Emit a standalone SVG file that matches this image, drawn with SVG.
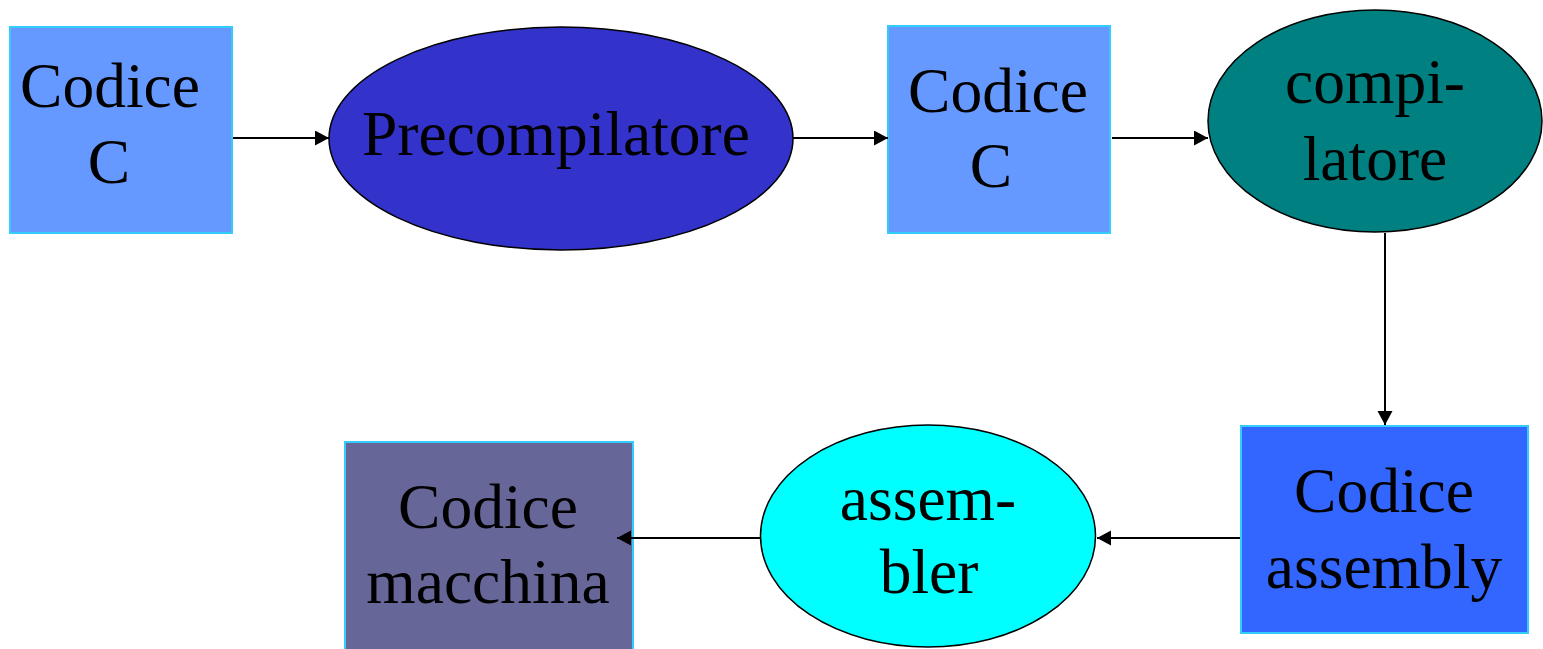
<svg xmlns="http://www.w3.org/2000/svg" width="1543" height="649" viewBox="0 0 1543 649">
<style>
.box{stroke:#33CCFF;stroke-width:2}
.ell{stroke:#000;stroke-width:1.5}
text{font-family:"Liberation Serif","Times New Roman",serif;font-size:63.5px;fill:#000;text-anchor:middle}
.conn{stroke:#000;stroke-width:2;fill:none;marker-end:url(#arr)}
</style>
<defs>
<marker id="arr" markerUnits="userSpaceOnUse" markerWidth="16" markerHeight="16" refX="14" refY="7.5" orient="auto">
<path d="M0,0 L14,7.5 L0,15 z" fill="#000"/>
</marker>
</defs>
<rect width="1543" height="649" fill="#fff"/>
<g id="n1">
<rect class="box" x="10" y="27" width="222" height="206" fill="#6699FF"/>
<text x="110" y="107">Codice</text>
<text x="109" y="183">C</text>
</g>
<g id="n2">
<ellipse class="ell" cx="561" cy="138.5" rx="232" ry="111.5" fill="#3333CC"/>
<text x="556" y="155">Precompilatore</text>
</g>
<g id="n3">
<rect class="box" x="888" y="26" width="222" height="207" fill="#6699FF"/>
<text x="998" y="112">Codice</text>
<text x="991" y="187">C</text>
</g>
<g id="n4">
<ellipse class="ell" cx="1375" cy="121" rx="167" ry="111" fill="#008080"/>
<text x="1375" y="103">compi-</text>
<text x="1375" y="180">latore</text>
</g>
<g id="n5">
<rect class="box" x="1241" y="426" width="287" height="207" fill="#3366FF"/>
<text x="1384" y="512">Codice</text>
<text x="1384" y="588">assembly</text>
</g>
<g id="n6">
<ellipse class="ell" cx="928" cy="536" rx="167.5" ry="111" fill="#00FFFF"/>
<text x="928" y="520">assem-</text>
<text x="929" y="593">bler</text>
</g>
<g id="n7">
<rect class="box" x="345" y="442" width="288" height="212" fill="#666699"/>
<text x="488" y="528">Codice</text>
<text x="488" y="603">macchina</text>
</g>
<g id="connectors">
<line class="conn" x1="233" y1="138" x2="329" y2="138"/>
<line class="conn" x1="793" y1="138" x2="888" y2="138"/>
<line class="conn" x1="1112" y1="138" x2="1208" y2="138"/>
<line class="conn" x1="1385" y1="233" x2="1385" y2="425"/>
<line class="conn" x1="1240" y1="538" x2="1097" y2="538"/>
<line class="conn" x1="760" y1="538" x2="617" y2="538"/>
</g>
</svg>
